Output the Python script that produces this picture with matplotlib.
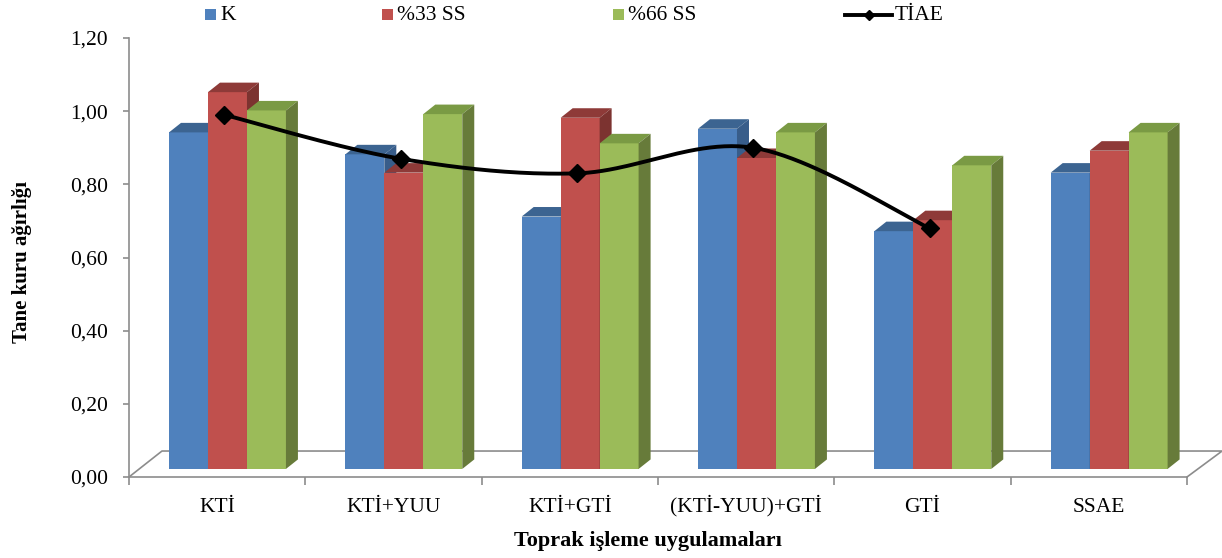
import numpy as np
import matplotlib
matplotlib.use('Agg')
import matplotlib.pyplot as plt
from matplotlib.patches import Polygon, Rectangle

plt.rcParams['font.family'] = ['Liberation Serif', 'DejaVu Serif']

categories = ['KTİ', 'KTİ+YUU', 'KTİ+GTİ', '(KTİ-YUU)+GTİ', 'GTİ', 'SSAE']
k_vals = [0.92, 0.86, 0.69, 0.93, 0.65, 0.81]
ss33_vals = [1.03, 0.81, 0.96, 0.85, 0.68, 0.87]
ss66_vals = [0.98, 0.97, 0.89, 0.92, 0.83, 0.92]
tiae_vals = [0.99, 0.87, 0.83, 0.90, 0.68]

series = [
    ('K', k_vals, '#4F81BD', '#3C6491', '#385D8A'),
    ('%33 SS', ss33_vals, '#C0504D', '#8E3A38', '#7C3330'),
    ('%66 SS', ss66_vals, '#9BBB59', '#7A9A44', '#677B3A'),
]

W, H = 1222, 558
fig = plt.figure(figsize=(W / 100, H / 100), dpi=100)
ax = fig.add_axes([129 / W, 81 / H, 1058 / W, 439 / H])
ax.set_xlim(0, 6)
ax.set_ylim(0, 1.2)

grey = '#8C8C8C'
# floor of the 3d box
fdx, fdy = 0.187, 0.071
ax.plot([0, fdx, 6 + fdx + 0.012, 6], [0, fdy, fdy, 0], color=grey, lw=1.2,
        clip_on=False, zorder=1)

# bars with a fake depth (top and side faces)
bw, off, base = 0.221, 0.227, 0.022
ddx, ddy = 0.068, 0.026
for i in range(len(categories)):
    for j, (name, vals, front, top, side) in enumerate(series):
        x0 = i + off + j * bw
        y1 = base + vals[i]
        ax.add_patch(Rectangle((x0, base), bw, vals[i], facecolor=front,
                               edgecolor='none', zorder=3, clip_on=False))
        ax.add_patch(Polygon([(x0, y1), (x0 + bw, y1), (x0 + bw + ddx, y1 + ddy),
                              (x0 + ddx, y1 + ddy)], closed=True,
                             facecolor=top, edgecolor='none', zorder=3, clip_on=False))
        ax.add_patch(Polygon([(x0 + bw, base), (x0 + bw + ddx, base + ddy),
                              (x0 + bw + ddx, y1 + ddy), (x0 + bw, y1)], closed=True,
                             facecolor=side, edgecolor='none', zorder=3, clip_on=False))


def smooth(xs, ys, n=50):
    # bezier curve through the points, like a smoothed line in a spreadsheet
    pts = np.column_stack([xs, ys])
    out = []
    for k in range(len(pts) - 1):
        p0 = pts[max(k - 1, 0)]
        p1, p2 = pts[k], pts[k + 1]
        p3 = pts[min(k + 2, len(pts) - 1)]
        c1 = p1 + (p2 - p0) / 6
        c2 = p2 - (p3 - p1) / 6
        t = np.linspace(0, 1, n)[:, None]
        out.append((1 - t) ** 3 * p1 + 3 * (1 - t) ** 2 * t * c1
                   + 3 * (1 - t) * t ** 2 * c2 + t ** 3 * p2)
    c = np.vstack(out)
    return c[:, 0], c[:, 1]


lx = np.arange(len(tiae_vals)) + 0.54
sx, sy = smooth(lx, np.array(tiae_vals))
ax.plot(sx, sy, color='black', lw=2.8, zorder=5, solid_capstyle='round')
ax.plot(lx, tiae_vals, 'D', color='black', ms=8.7, zorder=6)

# axes styling
for s in ['top', 'right']:
    ax.spines[s].set_visible(False)
for s in ['left', 'bottom']:
    ax.spines[s].set_color(grey)
    ax.spines[s].set_linewidth(1.2)
ax.set_yticks(np.arange(0, 1.21, 0.2))
ax.set_yticklabels([('%.2f' % v).replace('.', ',') for v in np.arange(0, 1.21, 0.2)])
ax.tick_params(axis='y', direction='out', length=4.5, width=1.2, color=grey,
               labelsize=15.5, pad=10.5)
ax.set_xticks(np.arange(0, 7))
ax.set_xticklabels([])
ax.set_xticks(np.arange(len(categories)) + 0.5, minor=True)
ax.set_xticklabels(categories, minor=True)
ax.tick_params(axis='x', which='major', direction='out', length=5.5, width=1.2, color=grey)
ax.tick_params(axis='x', which='minor', length=0, labelsize=15.5, pad=25)
for lbl in ax.get_xticklabels(minor=True):
    lbl.set_verticalalignment('baseline')

fig.text(648 / W, 1 - 541 / H, 'Toprak işleme uygulamaları', fontsize=16,
         fontweight='bold', ha='center', va='center')
fig.text(22 / W, 1 - 262 / H, 'Tane kuru ağırlığı', fontsize=15, fontweight='bold',
         rotation=90, ha='center', va='center')

# legend along the top, laid out in pixels
lg = fig.add_axes([0, 0, 1, 1], zorder=10)
lg.set_xlim(0, W)
lg.set_ylim(H, 0)
lg.axis('off')
for (name, vals, front, top, side), sq in zip(series, [205, 382, 613]):
    lg.add_patch(Rectangle((sq, 9), 11, 11, facecolor=front, edgecolor='none'))
    lg.text(sq + 15, 15, name, fontsize=15.5, va='center', ha='left')
lg.plot([845, 892], [15, 15], color='black', lw=2.8)
lg.plot([869], [15], 'D', color='black', ms=5.5)
lg.text(895, 15, 'TİAE', fontsize=15.5, va='center', ha='left')

fig.savefig('out.png', dpi=100)
